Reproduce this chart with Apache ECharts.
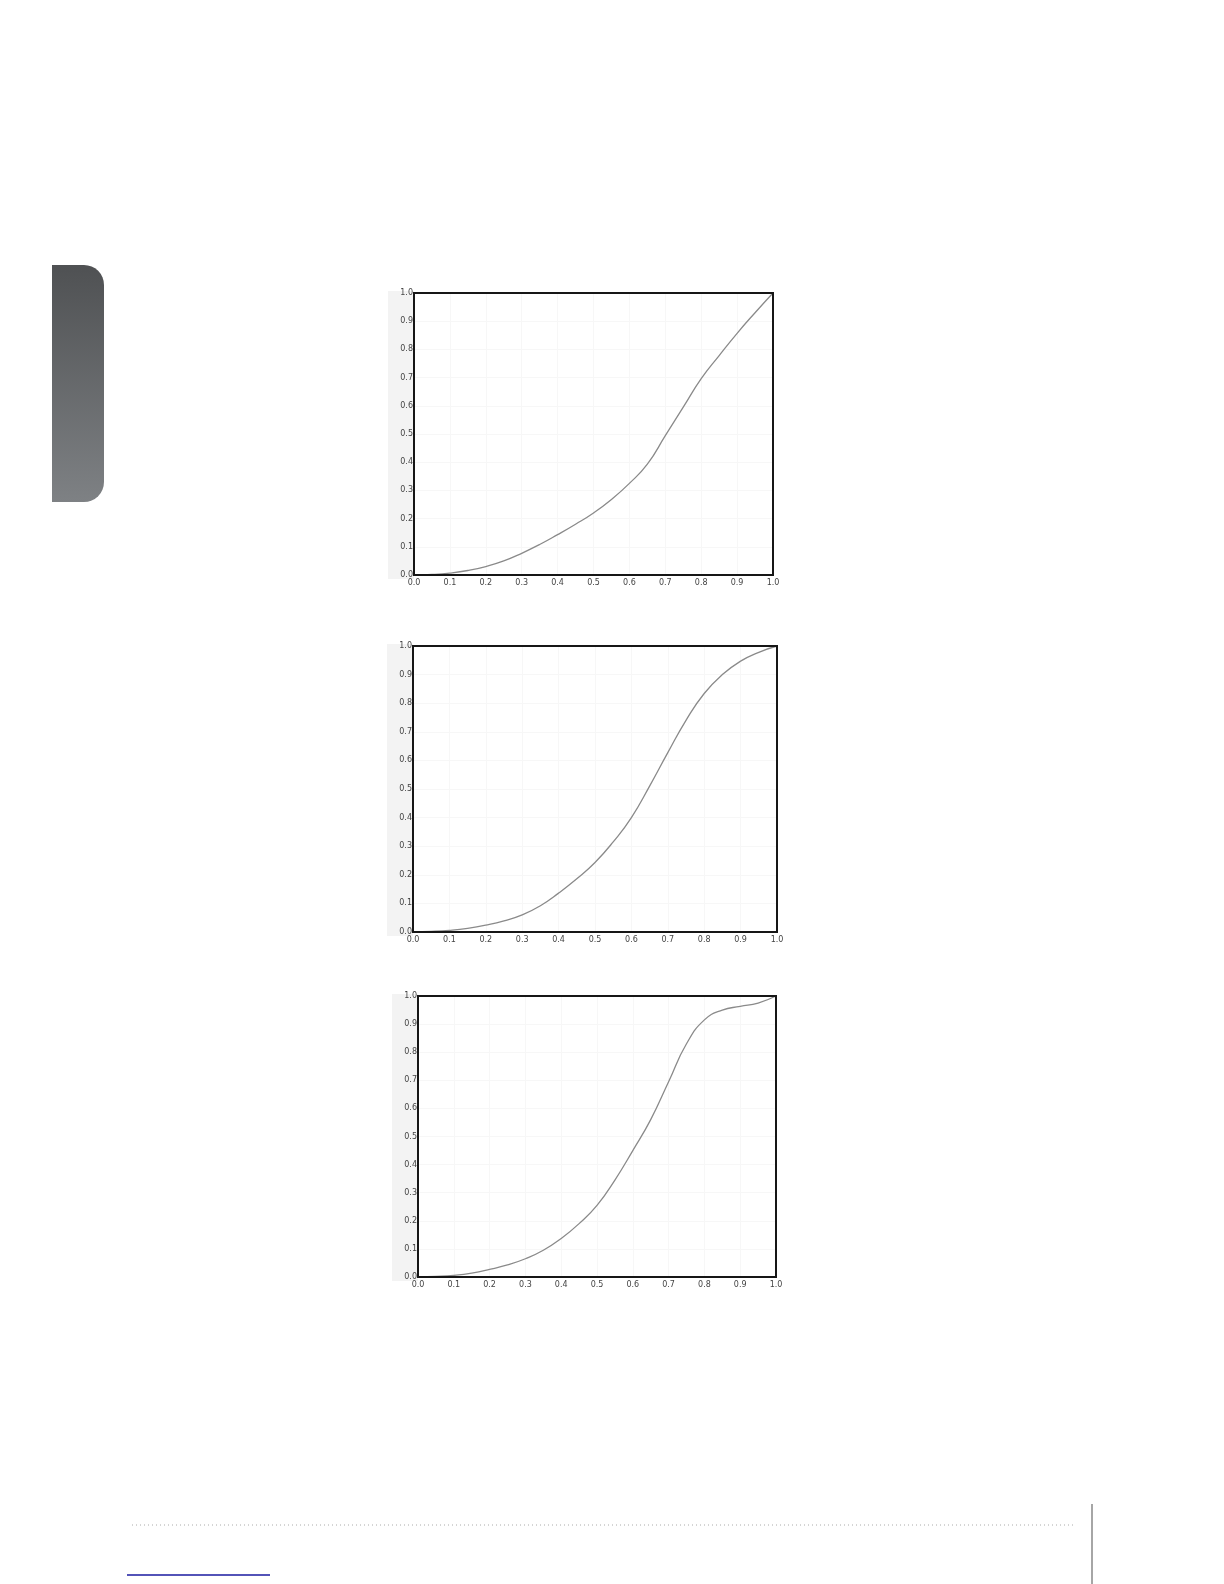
<!DOCTYPE html>
<html>
<head>
<meta charset="utf-8">
<script src="https://cdn.jsdelivr.net/npm/echarts@6/dist/echarts.min.js"></script>
<style>
  html, body { margin: 0; padding: 0; background: #fff; }
  #page { width: 1224px; height: 1584px; }
</style>
</head>
<body>
<div id="page"></div>
<script>
// x positions shared by the three curves
var xVals = [0, 0.05, 0.1, 0.15, 0.2, 0.25, 0.3, 0.35, 0.4, 0.45, 0.5, 0.55, 0.6, 0.65, 0.7, 0.75, 0.8, 0.85, 0.9, 0.95, 1.0];
// curve values
var curveA = [0, 0.002, 0.007, 0.016, 0.03, 0.05, 0.077, 0.108, 0.143, 0.18, 0.22, 0.268, 0.325, 0.393, 0.494, 0.595, 0.696, 0.778, 0.857, 0.93, 1.0];
var curveB = [0, 0.002, 0.006, 0.013, 0.024, 0.039, 0.06, 0.092, 0.136, 0.186, 0.243, 0.315, 0.4, 0.51, 0.627, 0.74, 0.834, 0.9, 0.947, 0.978, 1.0];
var curveC = [0, 0.002, 0.006, 0.014, 0.027, 0.043, 0.065, 0.095, 0.137, 0.19, 0.255, 0.345, 0.45, 0.56, 0.695, 0.83, 0.915, 0.95, 0.963, 0.975, 1.0];
var tickLabels = ['0.0', '0.1', '0.2', '0.3', '0.4', '0.5', '0.6', '0.7', '0.8', '0.9', '1.0'];

function pairs(ys) {
	var out = [];
	for (var i = 0; i < xVals.length; i++) out.push([xVals[i], ys[i]]);
	return out;
}

// plot boxes (pixels) for the three panels
var boxes = [
	{left: 414, top: 293, width: 359, height: 282},
	{left: 413, top: 646, width: 364, height: 286},
	{left: 418, top: 996, width: 358, height: 281}
];
var curves = [curveA, curveB, curveC];

var grids = [], xAxes = [], yAxes = [], series = [], graphics = [];

function fmt(v) {
	return tickLabels[Math.round(v * 10)];
}

boxes.forEach(function (b, i) {
	grids.push({
		left: b.left, top: b.top, width: b.width, height: b.height,
		show: true, borderWidth: 0, backgroundColor: '#fff'
	});
	xAxes.push({
		type: 'value', gridIndex: i, min: 0, max: 1, interval: 0.1,
		axisLine: {show: false},
		axisTick: {show: false},
		splitLine: {show: true, showMinLine: false, showMaxLine: false, lineStyle: {color: '#f7f7f7'}},
		axisLabel: {fontSize: 8, color: '#444', margin: 4, fontFamily: 'DejaVu Sans', formatter: fmt}
	});
	yAxes.push({
		type: 'value', gridIndex: i, min: 0, max: 1, interval: 0.1,
		axisLine: {show: false},
		axisTick: {show: false},
		splitLine: {show: true, showMinLine: false, showMaxLine: false, lineStyle: {color: '#f7f7f7'}},
		axisLabel: {fontSize: 8, color: '#444', margin: 1, fontFamily: 'DejaVu Sans', formatter: fmt}
	});
	series.push({
		type: 'line', xAxisIndex: i, yAxisIndex: i,
		data: pairs(curves[i]),
		smooth: true, symbol: 'none',
		lineStyle: {color: '#8a8a8a', width: 1.3}
	});
	// light grey strip behind the y labels
	graphics.push({
		type: 'rect', z: -10,
		shape: {x: b.left - 26, y: b.top - 2, width: 26, height: b.height + 6},
		style: {fill: '#f3f3f3'}
	});
	// dark frame drawn over everything
	graphics.push({
		type: 'rect', z: 100,
		shape: {x: b.left, y: b.top, width: b.width, height: b.height},
		style: {fill: null, stroke: '#161616', lineWidth: 2}
	});
});

// dark side tab
graphics.push({
	type: 'rect',
	shape: {x: 52, y: 265, width: 52, height: 237, r: [0, 20, 20, 0]},
	style: {
		fill: new echarts.graphic.LinearGradient(0, 0, 0, 1, [
			{offset: 0, color: '#4f5153'},
			{offset: 1, color: '#7e8184'}
		])
	}
});
// dotted footer rule
graphics.push({
	type: 'line',
	shape: {x1: 132, y1: 1525, x2: 1076, y2: 1525},
	style: {stroke: '#aaa', lineWidth: 1, lineDash: [1, 3]}
});
// vertical footer rule
graphics.push({
	type: 'line',
	shape: {x1: 1092, y1: 1504, x2: 1092, y2: 1584},
	style: {stroke: '#888', lineWidth: 1.5}
});
// blue underline
graphics.push({
	type: 'line',
	shape: {x1: 127, y1: 1575, x2: 270, y2: 1575},
	style: {stroke: '#1a1aa0', lineWidth: 1.5}
});

var chart = echarts.init(document.getElementById('page'));
chart.setOption({
	animation: false,
	backgroundColor: '#fff',
	grid: grids,
	xAxis: xAxes,
	yAxis: yAxes,
	series: series,
	graphic: graphics
});
</script>
</body>
</html>
